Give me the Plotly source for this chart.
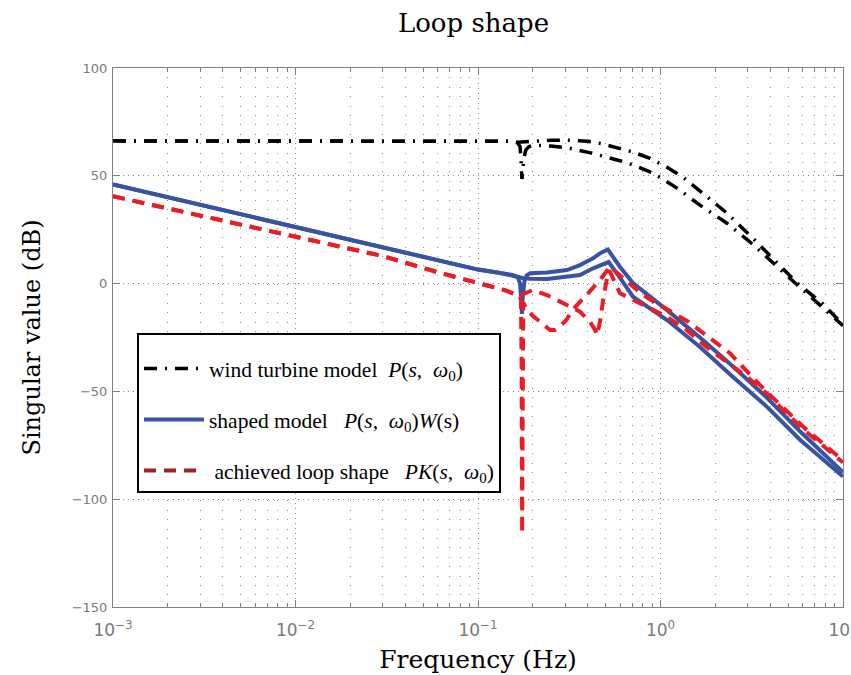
import plotly.graph_objects as go

# ---------------- data ----------------
# wind turbine model P(s, w0): two singular values
black_hi_f = [0.001, 0.01, 0.1, 0.15, 0.165, 0.185, 0.2, 0.25, 0.31, 0.4, 0.47, 0.6, 0.707,
              0.876, 1.086, 1.328, 1.709, 2.312, 3.213, 4.35, 5.60, 7.77, 10]
black_hi_db = [66.2, 66.2, 66.2, 66.0, 65.6, 65.8, 66.3, 66.5, 66.5, 66.0, 65.0, 62.5, 61.0,
               58.1, 54.0, 49.4, 42.0, 32.7, 21.0, 10.0, 0.3, -9.5, -19.0]
black_lo_f = [0.001, 0.01, 0.1, 0.15, 0.165, 0.17, 0.172, 0.174, 0.176, 0.178, 0.183, 0.19,
              0.2, 0.25, 0.31, 0.42, 0.6, 0.707, 0.91, 1.231, 1.645, 2.312, 3.093, 4.132,
              5.60, 7.48, 10]
black_lo_db = [66.2, 66.2, 66.2, 66.0, 65.3, 63.5, 58.0, 48.5, 52.0, 58.0, 62.0, 63.5,
               64.2, 63.8, 63.0, 60.5, 57.0, 55.0, 51.3, 44.3, 36.4, 28.0, 19.3, 9.5,
               -0.5, -10.0, -19.5]

# shaped model P(s, w0)W(s): two singular values
blue_a_f = [0.001, 0.01, 0.03, 0.06, 0.1, 0.13, 0.155, 0.165, 0.17, 0.172, 0.174, 0.176,
            0.18, 0.185, 0.193, 0.239, 0.307, 0.362, 0.427, 0.47, 0.515, 0.6, 0.707, 1.086,
            1.645, 2.496, 3.837, 5.81, 10]
blue_a_db = [46.0, 26.2, 17.0, 11.2, 6.5, 5.0, 4.0, 3.0, 0.0, -6.0, -14.0, -6.0,
             1.5, 3.8, 4.8, 5.1, 6.3, 8.6, 11.7, 14.2, 15.8, 7.7, 0.3, -12.3,
             -25.0, -38.5, -53.0, -68.5, -87.5]
blue_b_f = [0.001, 0.01, 0.03, 0.06, 0.1, 0.13, 0.155, 0.165, 0.175, 0.185, 0.193, 0.239,
            0.307, 0.362, 0.427, 0.48, 0.52, 0.6, 0.707, 1.086, 1.645, 2.496, 3.837, 5.81, 10]
blue_b_db = [46.0, 26.2, 17.0, 11.2, 6.5, 5.0, 4.0, 3.2, 2.6, 2.4, 2.3, 2.1,
             3.1, 4.0, 7.1, 8.8, 10.0, 2.7, -6.1, -16.9, -29.4, -43.3, -57.2, -72.4, -89.5]

# achieved loop shape PK(s, w0): two singular values
red_a_f = [0.001, 0.007, 0.01, 0.03, 0.0617, 0.1, 0.116, 0.14, 0.155, 0.165, 0.17, 0.172,
           0.1735, 0.1745, 0.1755, 0.177, 0.179, 0.183, 0.2, 0.248, 0.264, 0.28, 0.305,
           0.33, 0.393, 0.466, 0.53, 0.8, 1.42, 2.4, 3.65, 6.05, 10]
red_a_db = [40.5, 24.9, 22.0, 12.8, 5.0, 0.5, -1.3, -3.0, -4.5, -5.5, -6.0, -8.0,
            -40.0, -116.0, -40.0, -9.0, -9.5, -11.5, -15.0, -21.5, -21.5, -20.0, -16.9,
            -12.2, -5.3, 1.7, 7.8, -5.3, -17.7, -32.3, -48.6, -66.4, -82.0]
red_b_f = [0.001, 0.007, 0.01, 0.03, 0.0617, 0.1, 0.116, 0.14, 0.155, 0.165, 0.175, 0.185,
           0.2, 0.239, 0.31, 0.362, 0.411, 0.438, 0.45, 0.47, 0.484, 0.515, 0.525, 0.6,
           0.77, 1.08, 1.39, 1.78, 2.97, 3.82, 4.8, 6.05, 10]
red_b_db = [40.5, 24.9, 22.0, 12.8, 5.0, 0.5, -1.3, -3.0, -4.5, -5.5, -5.0, -4.0,
            -3.0, -5.3, -9.9, -13.0, -17.7, -21.5, -24.0, -16.0, -8.0, 4.9, 6.0, -4.5,
            -9.1, -15.3, -21.5, -29.3, -43.2, -50.9, -59.4, -67.5, -83.0]

x_tick_vals = [0.001, 0.01, 0.1, 1, 10]
x_tick_text = ["10<sup>\u22123</sup>", "10<sup>\u22122</sup>", "10<sup>\u22121</sup>",
               "10<sup>0</sup>", "10<sup>1</sup>"]
NB = "\u00a0"
legend_names = [
    f"wind turbine model{NB*2}<i>P</i>(<i>s</i>,{NB*2}<i>\u03c9</i><sub>0</sub>)",
    f"shaped model{NB*3}<i>P</i>(<i>s</i>,{NB*2}<i>\u03c9</i><sub>0</sub>)<i>W</i>(s)",
    f"{NB}achieved loop shape{NB*3}<i>PK</i>(<i>s</i>,{NB*2}<i>\u03c9</i><sub>0</sub>)",
]

# ---------------- styles ----------------
BLACK = "#000000"
BLUE = "#3953A4"
RED = "#ED1C24"
RED_LEG = "#A41E22"
DASHDOT = "13px,8px,2px,8px"
DASH = "12px,8px"
GRAY = "#808080"
GRID = "#8a8a8a"

fig = go.Figure()

for f, d in [(black_hi_f, black_hi_db), (black_lo_f, black_lo_db)]:
    fig.add_trace(go.Scatter(x=f, y=d, mode="lines", showlegend=False,
                             line=dict(color=BLACK, width=3.5, dash=DASHDOT)))
for f, d in [(blue_a_f, blue_a_db), (blue_b_f, blue_b_db)]:
    fig.add_trace(go.Scatter(x=f, y=d, mode="lines", showlegend=False,
                             line=dict(color=BLUE, width=4)))
for f, d in [(red_a_f, red_a_db), (red_b_f, red_b_db)]:
    fig.add_trace(go.Scatter(x=f, y=d, mode="lines", showlegend=False,
                             line=dict(color=RED, width=4, dash=DASH)))

# legend entries
leg_styles = [dict(color=BLACK, width=3.5, dash=DASHDOT),
              dict(color=BLUE, width=4),
              dict(color=RED_LEG, width=4, dash=DASH)]
for i, (nm, ls) in enumerate(zip(legend_names, leg_styles)):
    fig.add_trace(go.Scatter(x=[None], y=[None], mode="lines", name=nm, line=ls,
                             legendgroup=f"g{i}", showlegend=True))

minor_vals = [m * 10 ** e for e in range(-3, 1) for m in range(2, 10)]

xtickfont = dict(family="DejaVu Sans", size=17, color="#7a7a7a")
ytickfont = dict(family="DejaVu Sans", size=13, color="#7a7a7a")

fig.update_layout(
    width=851, height=675,
    margin=dict(l=113, r=8, t=68, b=68, autoexpand=False),
    paper_bgcolor="white", plot_bgcolor="white",
    title=dict(text="Loop shape", font=dict(family="DejaVu Serif", size=26, color="black"),
               x=(473.5 - 113) / 730, xref="paper", xanchor="center",
               y=1 - 23 / 675, yref="container", yanchor="middle"),
    xaxis=dict(type="log", range=[-3, 1], tickmode="array", tickvals=x_tick_vals,
               ticktext=x_tick_text, tickfont=xtickfont, ticklabeloverflow="allow",
               ticklabelstandoff=8, automargin=False,
               showline=True, linecolor=GRAY, linewidth=1, mirror="ticks",
               ticks="inside", ticklen=7, tickcolor=GRAY,
               showgrid=True, gridcolor=GRID, gridwidth=1, griddash="1px,4px",
               zeroline=False,
               minor=dict(tickmode="array", tickvals=minor_vals, ticks="inside",
                          ticklen=4, tickcolor=GRAY, showgrid=True,
                          gridcolor=GRID, gridwidth=1, griddash="1px,8.4px"),
               title=dict(text="Frequency (Hz)",
                          font=dict(family="DejaVu Serif", size=25, color="black"),
                          standoff=11)),
    yaxis=dict(range=[-150, 100], tickmode="linear", tick0=0, dtick=50, tickfont=ytickfont,
               ticklabelstandoff=2, automargin=False,
               showline=True, linecolor=GRAY, linewidth=1, mirror="ticks",
               ticks="inside", ticklen=7, tickcolor=GRAY,
               showgrid=True, gridcolor=GRID, gridwidth=1, griddash="1px,4px",
               zeroline=False,
               title=dict(text="Singular value (dB)",
                          font=dict(family="DejaVu Serif", size=24, color="black"),
                          standoff=24)),
    legend=dict(x=(137 - 113) / 730, y=(607 - 333) / 539, xanchor="left", yanchor="top",
                bgcolor="white", bordercolor="black", borderwidth=2,
                font=dict(family="Liberation Serif", size=21.5, color="black"),
                itemwidth=60, tracegroupgap=20,
                title=dict(text=NB, font=dict(size=10))),
)

fig.write_html("out.html")
